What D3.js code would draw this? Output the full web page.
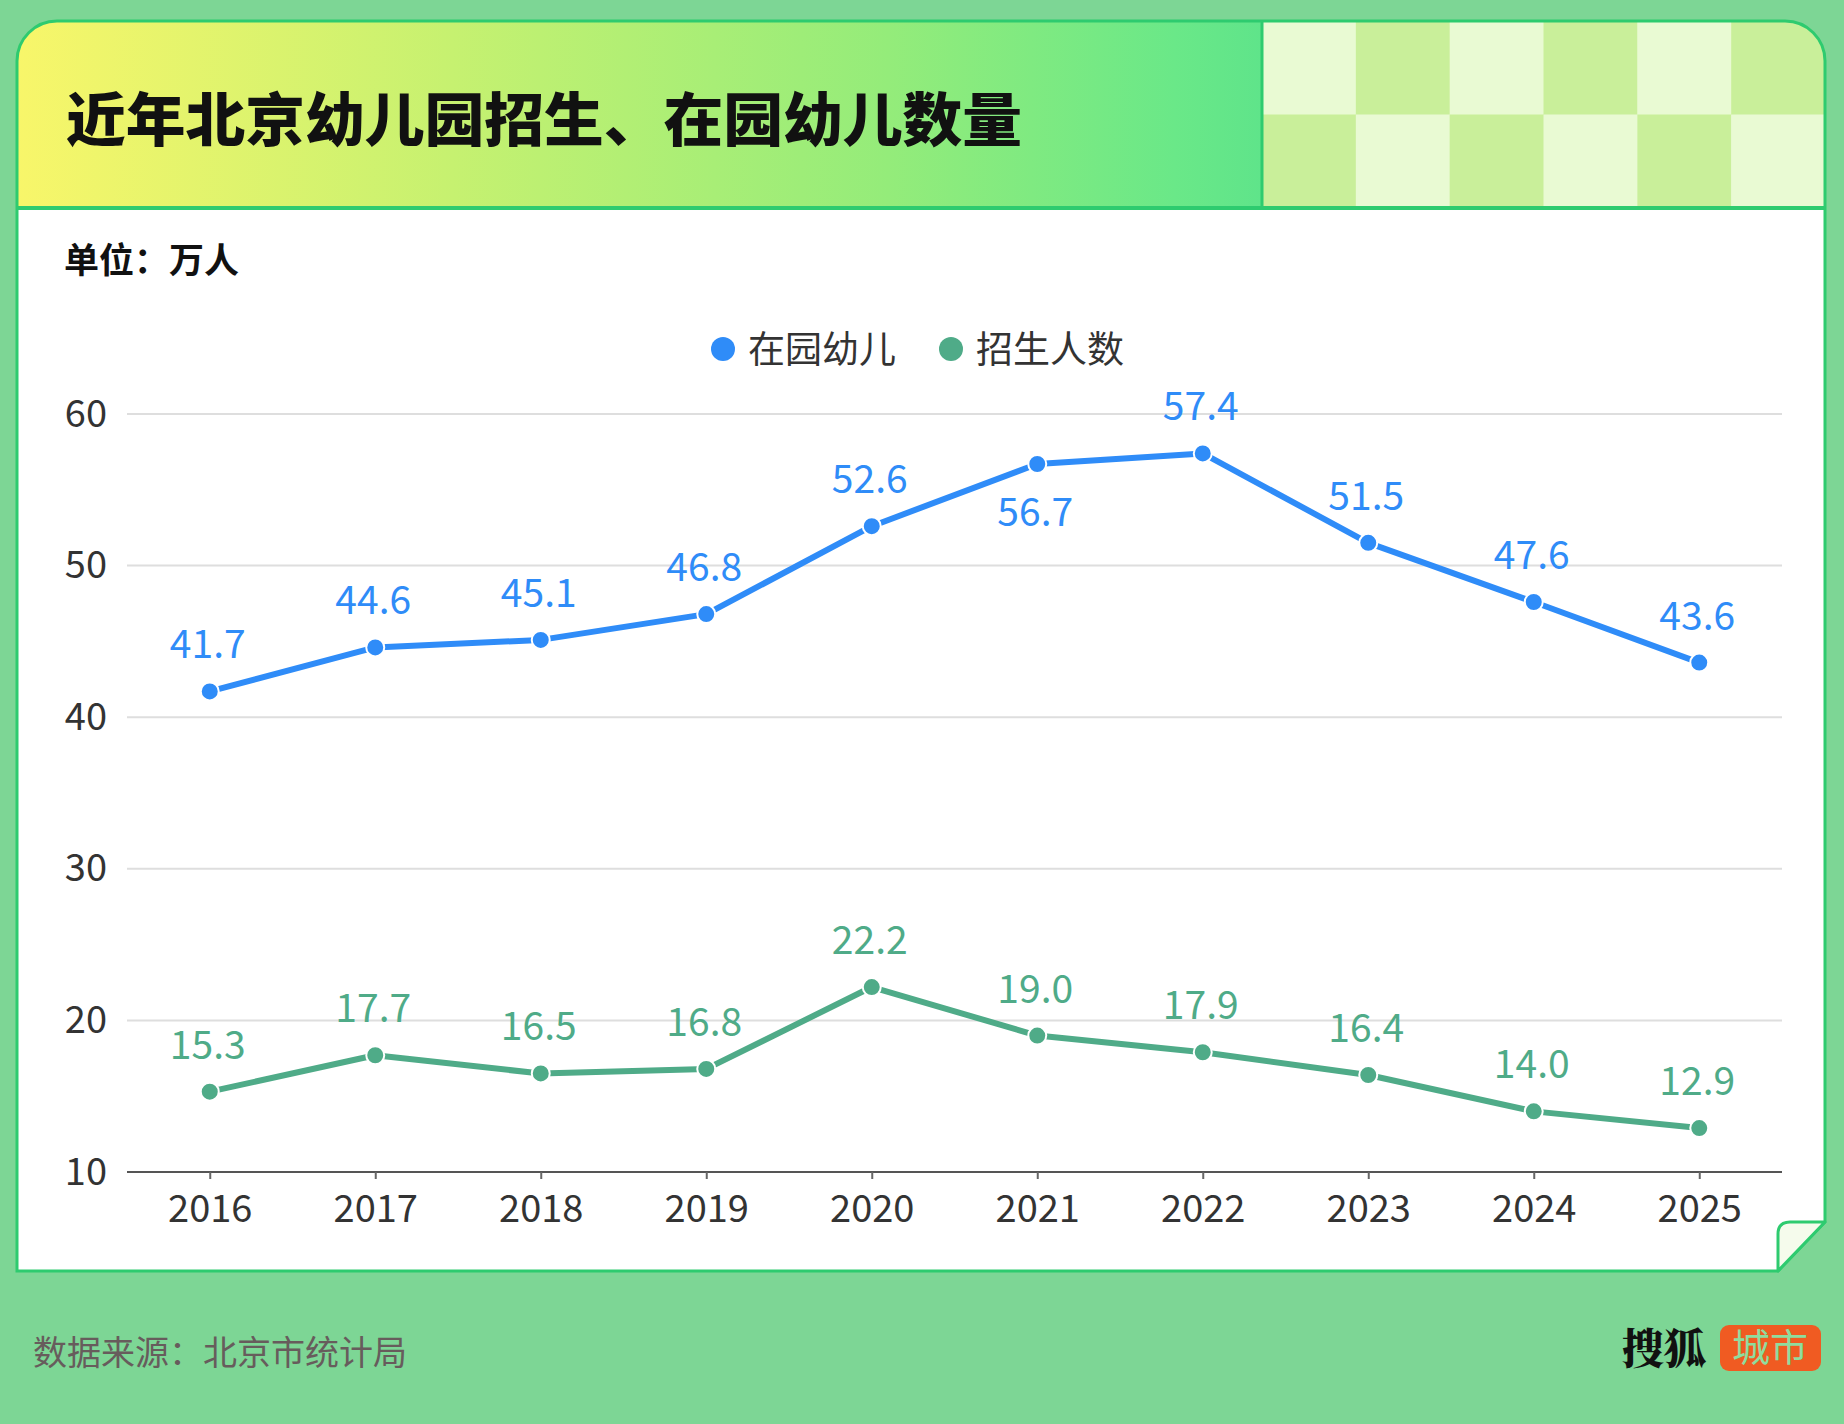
<!DOCTYPE html>
<html><head><meta charset="utf-8">
<script src="https://cdn.jsdelivr.net/npm/d3@7"></script>
<style>html,body{margin:0;padding:0;background:#7dd695;}svg{display:block;}</style>
</head><body>
<script>
const years = ["2016","2017","2018","2019","2020","2021","2022","2023","2024","2025"];
const enrolled = [41.7,44.6,45.1,46.8,52.6,56.7,57.4,51.5,47.6,43.6];
const admitted = [15.3,17.7,16.5,16.8,22.2,19.0,17.9,16.4,14.0,12.9];
const yTicks = [10,20,30,40,50,60];
const seriesNames = ["在园幼儿","招生人数"];
const titleText = "近年北京幼儿园招生、在园幼儿数量";
const unitText = "单位：万人";
const sourceText = "数据来源：北京市统计局";

const W = 1844, H = 1424;
const FONT = "'Noto Sans CJK SC','Noto Sans',sans-serif";
const BLUE = "#2f8cf8", GREEN = "#4fab88", BORDER = "#2ecb6f";

const svg = d3.select("body").append("svg").attr("width", W).attr("height", H);
svg.append("rect").attr("width", W).attr("height", H).attr("fill", "#7dd695");

const defs = svg.append("defs");
const grad = defs.append("linearGradient").attr("id","tg").attr("x1","0").attr("x2","1").attr("y1","0").attr("y2","0");
grad.append("stop").attr("offset","0").attr("stop-color","#f8f66a");
grad.append("stop").attr("offset","0.35").attr("stop-color","#c6f170");
grad.append("stop").attr("offset","0.7").attr("stop-color","#94ec7a");
grad.append("stop").attr("offset","0.93").attr("stop-color","#6ae888");
grad.append("stop").attr("offset","1").attr("stop-color","#5fe48a");

const x0 = 17, x1 = 1825, y0 = 21, y1 = 1271, r = 40, bandB = 208;
const foldX = 1778, foldY = 1222;
const cardPath = `M${x0},${y1} L${x0},${y0+r} A${r},${r} 0 0 1 ${x0+r},${y0} L${x1-r},${y0} A${r},${r} 0 0 1 ${x1},${y0+r} L${x1},${foldY} L${foldX},${y1} Z`;
defs.append("clipPath").attr("id","cardclip").append("path").attr("d", cardPath);

svg.append("path").attr("d", cardPath).attr("fill", "#fff");
const band = svg.append("g").attr("clip-path","url(#cardclip)");
band.append("rect").attr("x", x0).attr("y", y0).attr("width", 1262 - x0).attr("height", bandB - y0).attr("fill","url(#tg)");
// checkerboard
const cols = 6, cw = (x1 - 1262) / cols, rh = (bandB - y0) / 2;
for (let i = 0; i < cols; i++) for (let j = 0; j < 2; j++) {
  band.append("rect").attr("x", 1262 + i*cw).attr("y", y0 + j*rh).attr("width", cw+0.5).attr("height", rh+0.5)
    .attr("fill", ((i + j) % 2 === 0) ? "#e9fad3" : "#c9ef9a");
}
band.append("line").attr("x1",1262).attr("x2",1262).attr("y1",y0).attr("y2",bandB).attr("stroke",BORDER).attr("stroke-width",3);
svg.append("line").attr("x1",x0).attr("x2",x1).attr("y1",bandB).attr("y2",bandB).attr("stroke",BORDER).attr("stroke-width",4);
svg.append("path").attr("d", cardPath).attr("fill","none").attr("stroke",BORDER).attr("stroke-width",3);
// fold flap
svg.append("path").attr("d", `M${foldX},${y1} L${foldX},${foldY+12} Q${foldX},${foldY} ${foldX+12},${foldY} L${x1},${foldY} Z`)
  .attr("fill","#f5fbec").attr("stroke",BORDER).attr("stroke-width",3).attr("stroke-linejoin","round");

svg.append("text").attr("x", 66).attr("y", 141).text(titleText)
  .attr("font-family", FONT).attr("font-weight", 900).attr("font-size", 58).attr("fill","#111")
  .attr("textLength", 956).attr("lengthAdjust","spacingAndGlyphs");

svg.append("text").attr("x", 64).attr("y", 273).text(unitText)
  .attr("font-family", FONT).attr("font-weight", 700).attr("font-size", 35).attr("fill","#111");

// legend
const legend = [{name: seriesNames[0], color: BLUE, x: 723}, {name: seriesNames[1], color: GREEN, x: 951}];
legend.forEach(l => {
  svg.append("circle").attr("cx", l.x).attr("cy", 349).attr("r", 12).attr("fill", l.color);
  svg.append("text").attr("x", l.x + 25).attr("y", 363).text(l.name)
    .attr("font-family", FONT).attr("font-size", 37).attr("fill","#333");
});

// scales
const xs = d3.scalePoint().domain(years).range([127, 1782]).padding(0.5);
const ys = d3.scaleLinear().domain([10, 60]).range([1172, 414]);

// grid
svg.append("g").selectAll("line").data(yTicks.filter(t => t > 10)).join("line")
  .attr("x1",127).attr("x2",1782).attr("y1",d=>ys(d)).attr("y2",d=>ys(d))
  .attr("stroke","#dedede").attr("stroke-width",2);

const yAxis = svg.append("g").attr("transform","translate(127,0)")
  .call(d3.axisLeft(ys).tickValues(yTicks).tickSize(0).tickPadding(20));
yAxis.select(".domain").remove();
yAxis.selectAll("text").attr("font-family", FONT).attr("font-size", 38).attr("fill","#333");

const xAxis = svg.append("g").attr("transform","translate(0,1172)")
  .call(d3.axisBottom(xs).tickSize(7).tickPadding(16).tickSizeOuter(0));
xAxis.select(".domain").attr("stroke","#555").attr("stroke-width",2).attr("d","M127,0H1782");
xAxis.selectAll(".tick line").attr("stroke","#666").attr("stroke-width",2);
xAxis.selectAll("text").attr("font-family", FONT).attr("font-size", 38).attr("fill","#333");

function series(vals, color, labelBelow) {
  const pts = years.map((y,i) => ({y, v: vals[i], i}));
  const line = d3.line().x(d => xs(d.y)).y(d => ys(d.v));
  svg.append("path").datum(pts).attr("d", line).attr("fill","none").attr("stroke", color)
    .attr("stroke-width", 6).attr("stroke-linejoin","round");
  svg.append("g").selectAll("circle").data(pts).join("circle")
    .attr("cx", d => xs(d.y)).attr("cy", d => ys(d.v)).attr("r", 9)
    .attr("fill", color).attr("stroke","#fff").attr("stroke-width",2);
  svg.append("g").selectAll("text").data(pts).join("text")
    .attr("x", d => xs(d.y) - 2).attr("y", d => ys(d.v) + (labelBelow.includes(d.i) ? 62 : -33))
    .attr("text-anchor","middle").text(d => d.v.toFixed(1))
    .attr("font-family", FONT).attr("font-size", 39).attr("fill", color);
}
series(enrolled, BLUE, [5]);
series(admitted, GREEN, []);

// footer
svg.append("text").attr("x", 33).attr("y", 1365).text(sourceText)
  .attr("font-family", FONT).attr("font-size", 34).attr("fill","#675c5c");
svg.append("text").attr("x", 1622).attr("y", 1364).text("搜狐")
  .attr("font-family", "'Noto Serif CJK SC','Noto Sans CJK SC',serif").attr("font-weight",900).attr("font-size", 42).attr("fill","#111");
svg.append("rect").attr("x",1720).attr("y",1325).attr("width",101).attr("height",46).attr("rx",9).attr("fill","#f05b22");
svg.append("text").attr("x", 1770).attr("y", 1361).attr("text-anchor","middle").text("城市")
  .attr("font-family", FONT).attr("font-size", 38).attr("fill","#8fdc9e");
</script>
</body></html>
